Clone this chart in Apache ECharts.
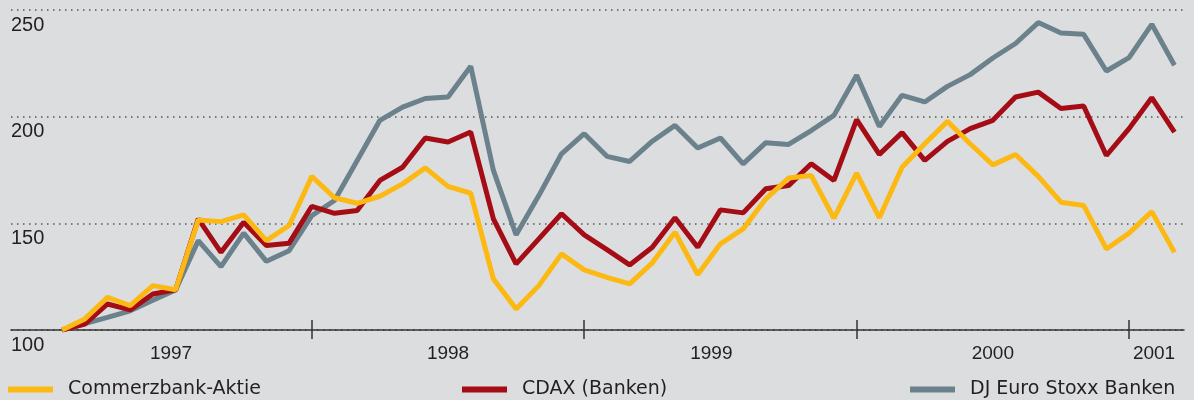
<!DOCTYPE html>
<html lang="de">
<head>
    <meta charset="UTF-8"/>
    <title>Kursentwicklung</title>
    <script src="https://cdn.jsdelivr.net/npm/echarts@6/dist/echarts.min.js"></script>
    <style>
        html, body { margin: 0; padding: 0; background: #dcdddf; }
        #main { width: 1194px; height: 400px; }
    </style>
</head>
<body>
<div id="main"></div>
<script type="text/javascript">
    // Monatswerte, Index 100 = Start 1997
    var commerzbank = [100, 105.2, 115.3, 111.4, 120.8, 118.9, 151.6, 150.8, 154.0, 141.9,
        149.0, 172.0, 162.0, 159.4, 162.7, 168.5, 176.0, 167.3, 164.1, 123.9,
        109.9, 120.8, 135.7, 128.2, 124.7, 121.6, 131.5, 145.8, 126.0, 140.4,
        147.4, 161.5, 171.2, 172.4, 152.4, 173.5, 152.6, 176.3, 187.3, 197.8,
        187.3, 177.4, 182.3, 172.0, 159.9, 158.4, 138.0, 145.4, 155.5, 136.4];
    var cdax = [100, 102.8, 112.2, 109.4, 116.9, 118.8, 152.1, 136.4, 150.5, 139.6,
        140.7, 158.0, 154.7, 156.0, 170.1, 176.3, 190.0, 188.1, 192.8, 152.1,
        131.0, 142.7, 154.5, 144.6, 137.7, 130.5, 138.8, 152.6, 138.8, 156.3,
        154.9, 166.2, 167.7, 177.9, 170.1, 198.6, 182.3, 192.5, 179.5, 188.4,
        194.4, 198.3, 209.2, 211.5, 203.8, 205.0, 181.8, 194.4, 208.9, 192.8];
    var stoxx = [100, 103.0, 105.9, 109.0, 114.0, 118.8, 141.9, 129.7, 145.4, 132.2,
        137.2, 153.6, 160.7, 179.5, 198.3, 204.5, 208.5, 209.2, 223.6, 174.8,
        144.6, 163.0, 182.6, 192.0, 181.4, 179.0, 188.5, 195.9, 185.3, 190.0,
        177.9, 187.8, 187.0, 193.5, 200.6, 219.4, 195.4, 210.0, 206.9, 214.2,
        219.7, 227.5, 234.3, 244.1, 239.2, 238.6, 221.4, 227.7, 243.3, 224.1];

    var names = ['Commerzbank-Aktie', 'CDAX (Banken)', 'DJ Euro Stoxx Banken'];
    var years = ['1997', '1998', '1999', '2000', '2001'];
    var yearTicks = [11, 23, 35, 47];           // Jahreswechsel (Monatsindex)
    var yearLabelAt = [4.8, 17, 28.6, 41, 48.1]; // Lage der Jahreszahlen

    function pairs(arr) {
        var out = [];
        for (var i = 0; i < arr.length; i++) out.push([i, arr[i]]);
        return out;
    }

    var myChart = echarts.init(document.getElementById('main'));

    var legendBase = {
        top: 380,
        padding: 0,
        icon: 'rect',
        itemWidth: 45,
        itemHeight: 6,
        selectedMode: false,
        textStyle: { fontFamily: 'DejaVu Sans', fontSize: 19, color: '#231f20', padding: [0, 0, 0, 10] }
    };

    var option = {
        animation: false,
        backgroundColor: '#dcdddf',
        grid: { left: 11, right: 10, top: 10, bottom: 70 },
        legend: [
            Object.assign({}, legendBase, { left: 8, data: [names[0]] }),
            Object.assign({}, legendBase, { left: 462, data: [names[1]] }),
            Object.assign({}, legendBase, { left: 910, data: [names[2]] })
        ],
        xAxis: [
            {
                type: 'value',
                min: -2.25,
                max: 49.42,
                position: 'bottom',
                axisLine: { show: true, lineStyle: { color: '#333', width: 1.5 } },
                axisTick: { show: true, customValues: yearTicks, length: 9, lineStyle: { color: '#333', width: 1.5 } },
                axisLabel: {
                    customValues: yearLabelAt,
                    margin: 14,
                    fontFamily: 'Liberation Sans',
                    fontSize: 19,
                    color: '#231f20',
                    formatter: function (v) {
                        var best = 0;
                        for (var k = 1; k < yearLabelAt.length; k++) {
                            if (Math.abs(yearLabelAt[k] - v) < Math.abs(yearLabelAt[best] - v)) best = k;
                        }
                        return years[best];
                    }
                },
                splitLine: { show: false }
            },
            {
                type: 'value',
                min: -2.25,
                max: 49.42,
                position: 'bottom',
                axisLine: { show: false },
                axisTick: { show: true, inside: true, customValues: yearTicks, length: 10, lineStyle: { color: '#333', width: 1.5 } },
                axisLabel: { show: false },
                splitLine: { show: false }
            }
        ],
        yAxis: {
            type: 'value',
            min: 100,
            max: 250,
            interval: 50,
            axisLine: { show: false },
            axisTick: { show: false },
            axisLabel: {
                inside: true,
                margin: 0,
                align: 'left',
                verticalAlign: 'top',
                padding: [5, 0, 0, 0],
                fontFamily: 'Liberation Sans',
                fontSize: 20,
                color: '#231f20'
            },
            splitLine: { show: true, lineStyle: { color: '#555', width: 1.5, type: [1.5, 4.5] } }
        },
        series: [
            {
                name: names[2], type: 'line', data: pairs(stoxx), symbol: 'none',
                color: '#6b818c', lineStyle: { width: 5, color: '#6b818c' }
            },
            {
                name: names[1], type: 'line', data: pairs(cdax), symbol: 'none',
                color: '#a50d16', lineStyle: { width: 5, color: '#a50d16' }
            },
            {
                name: names[0], type: 'line', data: pairs(commerzbank), symbol: 'none',
                color: '#fdb913', lineStyle: { width: 5, color: '#fdb913' }
            }
        ]
    };

    myChart.setOption(option);
</script>
</body>
</html>
